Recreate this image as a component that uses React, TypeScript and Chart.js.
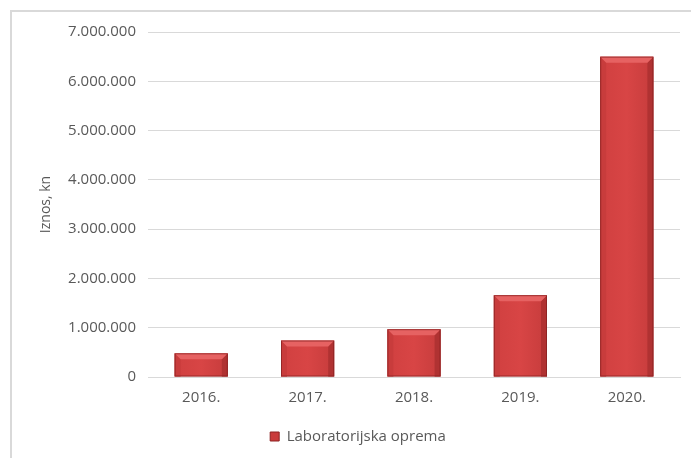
import React, { useEffect, useRef } from "react";
import { Chart, registerables } from "chart.js";

Chart.register(...registerables);

const categories = ["2016.", "2017.", "2018.", "2019.", "2020."];
const seriesName = "Laboratorijska oprema";
const values = [480000, 740000, 970000, 1660000, 6500000];
const yTitle = "Iznos, kn";
const yMax = 7000000;
const yStep = 1000000;

const FONT = "'Open Sans', 'Liberation Sans', sans-serif";
const TEXT = "#595959";
const GRID = "#d9d9d9";
const FS = 15;

function fmt(v: number): string {
  return String(Math.round(v)).replace(/\B(?=(\d{3})+(?!\d))/g, ".");
}

const bevelPlugin = {
  id: "bevel",
  afterDatasetsDraw(chart: any) {
    const ctx = chart.ctx;
    chart.data.datasets.forEach((_: any, di: number) => {
      const meta = chart.getDatasetMeta(di);
      meta.data.forEach((el: any) => {
        const p = el.getProps(["x", "y", "base", "width"], true);
        const l = p.x - p.width / 2;
        const r = p.x + p.width / 2;
        const t = Math.min(p.y, p.base);
        const b = Math.max(p.y, p.base);
        const bv = Math.min(6, (b - t) / 2);
        ctx.save();
        // face gradient
        const g = ctx.createLinearGradient(l, 0, r, 0);
        g.addColorStop(0, "#d04040");
        g.addColorStop(0.5, "#d84545");
        g.addColorStop(1, "#c63c3c");
        ctx.fillStyle = g;
        ctx.fillRect(l, t, r - l, b - t);
        // left side
        ctx.fillStyle = "#c83c3c";
        ctx.beginPath();
        ctx.moveTo(l, t);
        ctx.lineTo(l + bv, t + bv);
        ctx.lineTo(l + bv, b);
        ctx.lineTo(l, b);
        ctx.closePath();
        ctx.fill();
        // right side
        ctx.fillStyle = "#b03232";
        ctx.beginPath();
        ctx.moveTo(r, t);
        ctx.lineTo(r, b);
        ctx.lineTo(r - bv, b);
        ctx.lineTo(r - bv, t + bv);
        ctx.closePath();
        ctx.fill();
        // top
        ctx.fillStyle = "#e66262";
        ctx.beginPath();
        ctx.moveTo(l, t);
        ctx.lineTo(r, t);
        ctx.lineTo(r - bv, t + bv);
        ctx.lineTo(l + bv, t + bv);
        ctx.closePath();
        ctx.fill();
        // outline
        ctx.strokeStyle = "rgba(130,30,30,0.7)";
        ctx.lineWidth = 1;
        ctx.strokeRect(l + 0.5, t + 0.5, r - l - 1, b - t - 1);
        ctx.restore();
      });
    });
  },
};

export default function App() {
  const ref = useRef<HTMLCanvasElement | null>(null);
  useEffect(() => {
    if (!ref.current) return;
    const chart = new Chart(ref.current, {
      type: "bar",
      data: {
        labels: categories,
        datasets: [
          {
            label: seriesName,
            data: values,
            backgroundColor: "rgba(0,0,0,0)",
            borderWidth: 0,
            barPercentage: 0.5,
            categoryPercentage: 1.0,
          },
        ],
      },
      options: {
        animation: false,
        responsive: false,
        devicePixelRatio: 1,
        layout: { padding: { left: 36, top: 32, right: 11, bottom: 4 } },
        plugins: {
          tooltip: { enabled: false },
          legend: {
            position: "bottom",
            labels: {
              boxWidth: 9,
              boxHeight: 9,
              padding: 10,
              color: TEXT,
              font: { family: FONT, size: FS },
              generateLabels: () => [
                {
                  text: seriesName,
                  fillStyle: "#c93b3b",
                  strokeStyle: "#8e2222",
                  lineWidth: 1,
                  hidden: false,
                  datasetIndex: 0,
                  fontColor: TEXT,
                },
              ],
            },
          },
        },
        scales: {
          x: {
            grid: { display: false, drawTicks: false },
            border: { display: true, color: GRID },
            ticks: { color: TEXT, padding: 12, font: { family: FONT, size: FS } },
            afterFit: (s: any) => {
              s.height = 42;
            },
          },
          y: {
            min: 0,
            max: yMax,
            grid: { color: GRID, drawTicks: false },
            border: { display: false },
            ticks: {
              stepSize: yStep,
              color: TEXT,
              padding: 12,
              font: { family: FONT, size: FS },
              callback: (v: any) => fmt(Number(v)),
            },
            title: {
              display: true,
              text: yTitle,
              color: TEXT,
              font: { family: FONT, size: 14 },
              padding: 2,
            },
            afterFit: (s: any) => {
              s.width = 112;
            },
          },
        },
      },
      plugins: [bevelPlugin],
    } as any);
    return () => chart.destroy();
  }, []);
  return (
    <div
      style={{
        position: "fixed",
        left: 0,
        top: 0,
        width: 691,
        height: 458,
        overflow: "hidden",
        background: "#fff",
      }}
    >
      <div
        style={{
          position: "absolute",
          left: 10,
          top: 10,
          width: 720,
          height: 480,
          border: "2px solid #d9d9d9",
          boxSizing: "border-box",
        }}
      />
      <canvas
        ref={ref}
        width={691}
        height={458}
        style={{ position: "absolute", left: 0, top: 0 }}
      />
    </div>
  );
}
